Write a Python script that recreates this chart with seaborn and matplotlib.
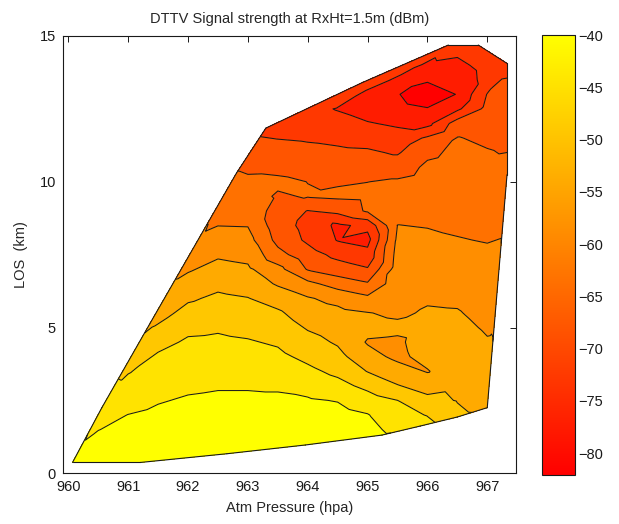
import numpy as np
import matplotlib
matplotlib.use("Agg")
import matplotlib.pyplot as plt
import matplotlib.tri as mtri
from matplotlib.colors import Normalize
from matplotlib.cm import ScalarMappable
import seaborn as sns

# ---------------- text / ticks ----------------
TITLE = "DTTV Signal strength at RxHt=1.5m (dBm)"
XLABEL = "Atm Pressure (hpa)"
YLABEL = "LOS  (km)"
X_TICKS = [960, 961, 962, 963, 964, 965, 966, 967]
Y_TICKS = [0, 5, 10, 15]
CBAR_TICKS = [-80, -75, -70, -65, -60, -55, -50, -45, -40]
SIG_MIN, SIG_MAX = -82.1, -40.0

# ---------------- measurement grid (LOS step 0.5 km per column) ----------------
col_pressure = [960.5, 961.0, 961.5, 962.0, 962.5, 963.0, 963.5,
                964.0, 964.5, 965.0, 965.5, 966.0, 966.5, 967.0]
col_los_start = [0.5, 0.5, 0.5, 1.0, 1.0, 1.0, 1.0,
                 1.0, 1.5, 1.5, 1.5, 2.0, 2.0, 2.5]

sig_9605 = [-41.5, -42.9, -44.3]
sig_9610 = [-41.0, -42.0, -43.1, -44.15, -45.6, -47.2, -48.7]
sig_9615 = [-40.6, -41.4, -42.4, -43.4, -44.5, -45.6, -46.7, -47.9, -49.6, -52.1, -54.2]
sig_9620 = [-40.4, -41.4, -42.6, -43.8, -44.9, -45.9, -46.9, -47.9, -49.3, -51.3, -53.2,
            -55.3, -57.3]
sig_9625 = [-40.0, -40.8, -42.0, -43.4, -44.6, -45.7, -46.7, -47.7, -48.9, -50.4, -51.9,
            -53.6, -55.5, -57.4, -59.2, -61.1, -62.4]
sig_9630 = [-40.0, -40.7, -41.9, -43.4, -44.6, -45.7, -46.9, -48.1, -49.5, -51.0, -52.5,
            -54.4, -56.2, -58.0, -59.6, -61.2, -62.4, -63.5, -64.6, -65.9]
sig_9635 = [-40.1, -40.9, -42.0, -43.4, -44.8, -46.1, -47.5, -48.9, -50.4, -52.0, -54.4,
            -57.3, -59.7, -63.9, -66.5, -67.5, -67.0, -65.7, -64.5, -66.3, -67.9, -69.6,
            -71.0]
sig_9640 = [-40.3, -41.2, -42.3, -43.8, -45.6, -47.5, -49.4, -51.2, -53.0, -54.8, -56.5,
            -59.9, -65.6, -67.7, -70.2, -70.8, -69.6, -65.0, -65.3, -66.8, -68.4, -69.9,
            -71.3, -72.5]
sig_9645 = [-41.3, -42.8, -44.4, -47.1, -49.4, -51.4, -53.1, -54.5, -55.8, -58.0, -62.9,
            -67.5, -70.6, -73.9, -74.5, -68.3, -64.6, -65.6, -67.2, -68.7, -70.4, -72.3,
            -73.9]
sig_9650 = [-42.5, -44.0, -46.5, -49.5, -52.8, -55.3, -57.2, -55.6, -56.7, -60.1, -64.8,
            -69.1, -72.3, -75.0, -72.6, -64.7, -64.3, -65.3, -67.1, -68.9, -71.0, -73.4,
            -75.5, -74.5]
sig_9655 = [-46.0, -47.0, -48.4, -52.4, -55.1, -57.8, -57.5, -56.0, -57.5, -58.2, -58.6,
            -59.0, -59.5, -60.2, -61.0, -62.3, -63.5, -64.8, -67.1, -69.9, -72.0, -74.3,
            -75.8, -77.5, -74.2]
sig_9660 = [-48.6, -51.5, -54.3, -57.1, -55.5, -55.0, -55.3, -56.4, -57.3, -58.1, -58.8,
            -59.6, -60.4, -61.2, -62.0, -62.9, -63.8, -64.6, -66.0, -68.9, -75.0, -77.5,
            -82.1, -77.0, -74.2]
sig_9665 = [-51.8, -52.8, -53.4, -54.1, -54.7, -55.3, -56.0, -56.6, -57.4, -58.3, -59.2,
            -60.0, -60.9, -61.5, -62.1, -62.7, -63.3, -63.9, -64.5, -65.1, -67.4, -74.5,
            -77.6, -77.0, -75.0, -72.5]
sig_9670 = [-54.3, -54.8, -55.3, -56.0, -56.6, -57.2, -57.9, -58.5, -59.2, -59.9, -60.5,
            -61.2, -61.8, -62.4, -63.1, -63.7, -64.4, -65.0, -65.9, -67.1, -68.2, -69.3,
            -72.0, -71.8]

# outer measurement points (edge of the surveyed area)
edge_pressure = [960.07, 961.2, 962.65, 963.96, 965.24, 965.88, 966.5, 967.0, 967.16,
                 967.33, 967.33, 966.85, 966.35, 965.7, 964.92, 964.28, 963.3, 962.81,
                 962.31, 961.84, 961.37, 960.89, 960.56, 960.25]
edge_los = [0.37, 0.37, 0.67, 0.97, 1.31, 1.62, 1.93, 2.25, 6.4, 10.24, 14.06, 14.69,
            14.69, 14.06, 13.41, 12.78, 11.84, 10.3, 8.36, 6.7, 5.16, 3.22, 2.25, 0.99]
edge_signal = [-42.5, -40.8, -40.0, -40.2, -43.5, -46.5, -51.3, -54.0, -58.8, -64.0,
               -70.3, -72.5, -72.8, -72.5, -72.0, -71.5, -70.5, -65.0, -61.2, -56.9,
               -53.5, -48.5, -45.8, -44.0]

columns = [sig_9605, sig_9610, sig_9615, sig_9620, sig_9625, sig_9630, sig_9635,
           sig_9640, sig_9645, sig_9650, sig_9655, sig_9660, sig_9665, sig_9670]

# ---------------- assemble scattered samples ----------------
P, L, S = list(edge_pressure), list(edge_los), list(edge_signal)
for p, y0, vals in zip(col_pressure, col_los_start, columns):
    for i, v in enumerate(vals):
        P.append(p)
        L.append(y0 + 0.5 * i)
        S.append(v)
P, L, S = np.array(P), np.array(L), np.array(S)

# ---------------- style ----------------
sns.set_theme(style="white")
plt.rcParams["font.family"] = ["Liberation Sans", "DejaVu Sans"]
FS = 10.5

cmap = sns.color_palette("autumn", as_cmap=True)
norm = Normalize(SIG_MIN, SIG_MAX)
levels = np.linspace(SIG_MIN, SIG_MAX, 11)[1:-1]
band_bounds = np.concatenate([[-200.0], levels, [0.0]])
n_bands = len(band_bounds) - 1
band_colors = [cmap(f) for f in np.linspace(0.0, 1.0, n_bands)]

fig = plt.figure(figsize=(6.19, 5.24), dpi=100)
ax = fig.add_axes([0.1013, 0.0968, 0.7323, 0.8345])
cax = fig.add_axes([0.8751, 0.0935, 0.0538, 0.8397])

tri = mtri.Triangulation(P, L)
ax.tricontourf(tri, S, levels=band_bounds, colors=band_colors)
ax.tricontour(tri, S, levels=levels, colors="k", linewidths=0.75,
              linestyles="solid")

# outline of the surveyed area
for t, nb in zip(tri.triangles, tri.neighbors):
    for k in range(3):
        if nb[k] == -1:
            a, b = t[k], t[(k + 1) % 3]
            ax.plot([P[a], P[b]], [L[a], L[b]], color="k", lw=0.8,
                    solid_capstyle="round")

ax.set_xlim(959.906, 967.48)
ax.set_ylim(0, 15)
ax.set_xticks(X_TICKS)
ax.set_yticks(Y_TICKS)
ax.tick_params(direction="in", length=4, width=0.7, top=True, right=True,
               labelsize=FS, colors="k", pad=5)
for s in ax.spines.values():
    s.set_color("k")
    s.set_linewidth(0.8)
ax.set_facecolor("white")
ax.set_title(TITLE, fontsize=FS, pad=9)
ax.set_xlabel(XLABEL, fontsize=FS, labelpad=5)
ax.set_ylabel(YLABEL, fontsize=FS, labelpad=8)

sm = ScalarMappable(norm=norm, cmap=cmap)
cb = fig.colorbar(sm, cax=cax, ticks=CBAR_TICKS)
cb.outline.set_edgecolor("k")
cb.outline.set_linewidth(0.8)
cax.yaxis.set_ticks_position("both")
cax.tick_params(axis="y", direction="in", length=4, width=0.7, left=True, right=True,
                labelleft=False, labelright=True, labelsize=FS, colors="k", pad=2)

fig.savefig("out.png", dpi=100, facecolor="white")
